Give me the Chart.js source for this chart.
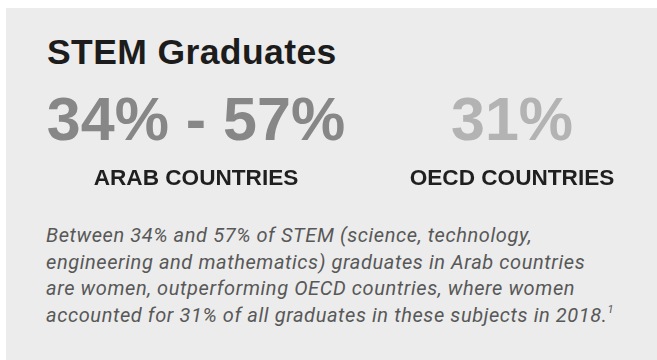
<!DOCTYPE html>
<html>
<head>
<meta charset="utf-8">
<script src="https://cdn.jsdelivr.net/npm/chart.js@4.4.1/dist/chart.umd.min.js"></script>
<style>
  body { margin: 0; width: 657px; height: 360px; background: #fff; overflow: hidden; position: relative; font-family: Roboto, sans-serif; }
  .card { position: absolute; left: 6px; top: 8px; right: 0; bottom: 0; background: #ececec; }
  h1 { position: absolute; left: 47px; top: 35px; margin: 0; font-family: "Liberation Sans", Arial, sans-serif; font-size: 35.5px; line-height: 35px; letter-spacing: 0.4px; font-weight: 700; color: #1c1c1c; white-space: nowrap; }
  #band { position: absolute; left: 0; top: 80px; }
  p.note { position: absolute; left: 46px; top: 222px; margin: 0; font-size: 20px; line-height: 26.7px; letter-spacing: 0.6px; font-style: italic; color: #585858; white-space: nowrap; }
</style>
</head>
<body>
<div class="card"></div>
<h1>STEM Graduates</h1>
<canvas id="band" width="657" height="120"></canvas>
<p class="note">Between 34% and 57% of STEM (science, technology,<br>engineering and mathematics) graduates in Arab countries<br>are women, outperforming OECD countries, where women<br>accounted for 31% of all graduates in these subjects in 2018.<sup style="font-size:11px;vertical-align:9px;line-height:0">1</sup></p>

<script>
const categories = ['ARAB COUNTRIES', 'OECD COUNTRIES'];
const lowShare = [34, 31];
const highShare = [57, 31];
const figureColors = ['#878787', '#b3b3b3'];

// writes the big percentage figure above each category label
const bigFigures = {
  id: 'bigFigures',
  afterDraw(chart) {
    const ctx = chart.ctx;
    const x = chart.scales.x;
    ctx.save();
    ctx.font = 'bold 61px "Liberation Sans"';
    ctx.textAlign = 'center';
    ctx.textBaseline = 'alphabetic';
    categories.forEach((c, i) => {
      const txt = lowShare[i] === highShare[i] ? highShare[i] + '%' : lowShare[i] + '% - ' + highShare[i] + '%';
      ctx.fillStyle = figureColors[i];
      ctx.fillText(txt, x.getPixelForValue(i), chart.chartArea.top + 60);
    });
    ctx.restore();
  }
};

const ctx = document.getElementById('band');

new Chart(ctx, {
  type: 'bar',
  data: {
    labels: categories,
    datasets: [{
      data: lowShare.map((v, i) => [v, highShare[i]]),
      backgroundColor: 'rgba(0,0,0,0)'
    }]
  },
  options: {
    responsive: false,
    animation: false,
    layout: { padding: { left: 196, right: 145, top: 0, bottom: 8 } },
    plugins: { legend: { display: false }, tooltip: { enabled: false } },
    scales: {
      x: {
        offset: false,
        grid: { display: false, drawTicks: false },
        border: { display: false },
        ticks: {
          color: '#1f1f1f',
          font: { family: 'Liberation Sans', size: 22.6, weight: 'bold' },
          padding: 0,
          maxRotation: 0,
          autoSkip: false
        }
      },
      y: { display: false, min: 0, max: 100 }
    }
  },
  plugins: [bigFigures]
});
</script>
</body>
</html>
